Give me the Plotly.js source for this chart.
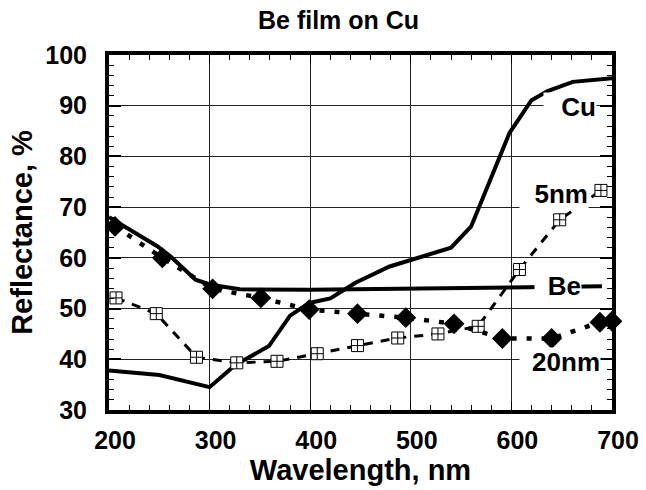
<!DOCTYPE html>
<html>
<head>
<meta charset="utf-8">
<script src="https://cdn.plot.ly/plotly-3.0.1.min.js"></script>
<style>html,body{margin:0;padding:0;background:#fff;}#chart{width:646px;height:490px;}</style>
</head>
<body>
<div id="chart"></div>
<script>
// Data
var cuWavelength = [200, 250, 300, 325, 359, 380, 399, 420, 445, 479, 540, 560, 598, 620, 636, 661, 700];
var cuReflect    = [37.8, 36.9, 34.5, 38.8, 42.6, 48.6, 51.1, 52.0, 55.1, 58.3, 62.0, 66.2, 84.6, 91.1, 92.9, 94.7, 95.4];

var beWavelength = [200, 248, 261, 286, 301, 330, 400, 440, 480, 510, 560, 623, 690];
var beReflect    = [68.0, 62.3, 60.3, 55.7, 54.7, 53.8, 53.7, 53.8, 53.9, 54.0, 54.1, 54.4, 54.4];

var nm5Wavelength = [207, 247, 287, 327, 367, 407, 447, 487, 527, 567, 608, 648, 689];
var nm5Reflect    = [52.1, 49.0, 40.4, 39.3, 39.6, 41.1, 42.7, 44.2, 45.0, 46.5, 57.7, 67.5, 73.3];

var nm20Wavelength = [206, 253, 303, 351, 399, 447, 495, 543, 591, 640, 688, 700];
var nm20Reflect    = [66.2, 60.0, 53.9, 52.1, 49.8, 49.0, 48.2, 47.0, 44.1, 44.1, 47.3, 47.5];

var xTickVals = [200, 300, 400, 500, 600, 700];
var yTickVals = [30, 40, 50, 60, 70, 80, 90, 100];

var FONT = '"Liberation Sans", Arial, sans-serif';

var traces = [
  {x: cuWavelength, y: cuReflect, type: 'scatter', mode: 'lines',
   line: {color: '#000', width: 4}, cliponaxis: false, hoverinfo: 'skip'},
  {x: beWavelength, y: beReflect, type: 'scatter', mode: 'lines',
   line: {color: '#000', width: 4}, cliponaxis: false, hoverinfo: 'skip'},
  {x: nm5Wavelength, y: nm5Reflect, type: 'scatter', mode: 'lines+markers',
   line: {color: '#000', width: 3, dash: '9px,8px'},
   marker: {symbol: 'square-cross', size: 12, color: '#fff', line: {color: '#000', width: 1}},
   cliponaxis: false, hoverinfo: 'skip'},
  {x: nm20Wavelength, y: nm20Reflect, type: 'scatter', mode: 'lines+markers',
   line: {color: '#000', width: 4.5, dash: '5px,10px'},
   marker: {symbol: 'diamond', size: 16, color: '#000', line: {width: 0}},
   cliponaxis: false, hoverinfo: 'skip'}
];

function label(text, x, y, w) {
  return {text: '<b>' + text + '</b>', x: x, y: y, xref: 'x', yref: 'y',
    showarrow: false, bgcolor: '#fff', borderpad: 0, width: w, height: 28, align: 'right',
    xanchor: 'center', yanchor: 'middle',
    font: {family: FONT, size: 26, color: '#000', weight: 'bold'}};
}

var layout = {
  width: 646, height: 490,
  margin: {l: 109, r: 34, t: 55, b: 80, pad: 0},
  paper_bgcolor: '#fff', plot_bgcolor: '#fff',
  showlegend: false,
  font: {family: FONT, color: '#000', weight: 'bold'},
  xaxis: {
    range: [200, 700], tickvals: xTickVals, ticktext: xTickVals.map(String),
    showgrid: true, gridcolor: '#222', gridwidth: 1,
    showline: true, linecolor: '#000', linewidth: 4, mirror: 'allticks',
    ticks: 'inside', ticklen: 8, tickwidth: 1, tickcolor: '#000',
    minor: {dtick: 20, tick0: 200, ticks: 'inside', ticklen: 5, tickwidth: 1, tickcolor: '#000', showgrid: false},
    zeroline: false,
    tickfont: {family: FONT, size: 25, color: '#000', weight: 'bold'},
    ticklabelshift: 6, ticklabelstandoff: 5,
    title: {text: 'Wavelength, nm', standoff: 0,
      font: {family: FONT, size: 29, color: '#000', weight: 'bold'}}
  },
  yaxis: {
    range: [30, 100], tickvals: yTickVals, ticktext: yTickVals.map(String),
    showgrid: true, gridcolor: '#222', gridwidth: 1,
    showline: true, linecolor: '#000', linewidth: 4, mirror: 'allticks',
    ticks: 'inside', ticklen: 12, tickwidth: 2, tickcolor: '#000',
    minor: {dtick: 2, tick0: 30, ticks: 'inside', ticklen: 5, tickwidth: 1, tickcolor: '#000', showgrid: false},
    zeroline: false,
    tickfont: {family: FONT, size: 25, color: '#000', weight: 'bold'},
    ticklabelstandoff: 13,
    title: {text: 'Reflectance, %', standoff: 5,
      font: {family: FONT, size: 29, color: '#000', weight: 'bold'}}
  },
  annotations: [
    {text: '<b>Be film on Cu</b>', xref: 'paper', yref: 'paper',
     x: (338 - 109) / 503, y: (410 - 20) / 355, xanchor: 'center', yanchor: 'middle',
     showarrow: false, font: {family: FONT, size: 25, color: '#000', weight: 'bold'}},
    label('Cu', 658.7, 89.8, 52),
    label('5nm', 642.3, 72.6, 68),
    label('Be', 646.3, 54.5, 46),
    label('20nm', 648.8, 39.5, 80)
  ]
};

Plotly.newPlot('chart', traces, layout, {staticPlot: true, displayModeBar: false});
</script>
</body>
</html>
